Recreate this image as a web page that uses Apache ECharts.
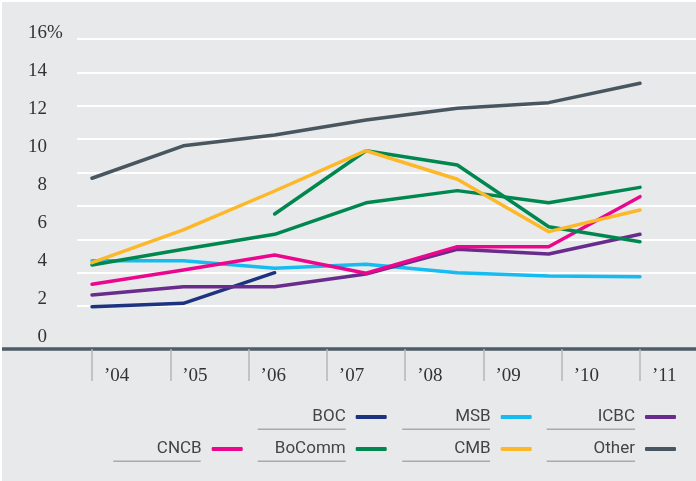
<!DOCTYPE html>
<html>
<head>
<meta charset="utf-8">
<script src="https://cdn.jsdelivr.net/npm/echarts@6/dist/echarts.min.js"></script>
<style>
  html, body { margin: 0; padding: 0; background: #fff; }
  #wrap { position: relative; width: 696px; height: 481px; background: #fff; }
  #chart { position: absolute; left: 2px; top: 2px; width: 694px; height: 479px; }
</style>
</head>
<body>
<div id="wrap"><div id="chart"></div></div>
<script>
// data points (7 per line), tick labels (8 under the axis)
const periods = ['2004', '2005', '2006', '2007', '2008', '2009', '2010']
const tickLabels = ['’04', '’05', '’06', '’07', '’08', '’09', '’10', '’11']

const boc = [1.61, 1.79, 3.40, null, null, null, null]
const msb = [4.03, 4.03, 3.63, 3.84, 3.40, 3.23, 3.19]
const icbc = [2.23, 2.66, 2.66, 3.33, 4.63, 4.38, 5.42]
const cncb = [2.79, 3.54, 4.33, 3.37, 4.77, 4.77, 7.40]
const bocomm = [3.81, 4.63, 5.42, 7.08, 7.72, 7.08, 7.89]
const bocomm2 = [null, null, 6.49, 9.82, 9.07, 5.82, 5.03]
const cmb = [3.93, 5.65, 7.70, 9.82, 8.32, 5.56, 6.70]
const other = [8.37, 10.08, 10.65, 11.44, 12.05, 12.35, 13.37]

const colors = {
  BOC: '#1c3380',
  MSB: '#16bcef',
  ICBC: '#6a2c8c',
  CNCB: '#ec068d',
  BoComm: '#00874f',
  CMB: '#fdb82a',
  Other: '#47565f',
}

const serif = 'Liberation Serif'
const chart = echarts.init(document.getElementById('chart'))

function line(name, data) {
  return {
    name: name,
    type: 'line',
    data: data,
    showSymbol: false,
    symbol: 'none',
    connectNulls: false,
    color: colors[name],
    lineStyle: {width: 3.5, color: colors[name], cap: 'round', join: 'round'},
    animation: false,
  }
}

// one legend box per entry so they can sit in the reference's columns
function legendItem(name, right, top) {
  return {
    data: [name],
    right: right,
    top: top,
    padding: 0,
    align: 'right',
    icon: 'roundRect',
    itemWidth: 31,
    itemHeight: 4,
    selectedMode: false,
    textStyle: {fontFamily: 'Roboto', fontSize: 17, color: '#444', padding: [0, 5, 4, 0]},
  }
}

function underline(x1, x2, y) {
  return {
    type: 'line',
    shape: {x1: x1, y1: y, x2: x2, y2: y},
    style: {stroke: '#a9aaac', lineWidth: 1.5},
  }
}

chart.setOption({
  backgroundColor: '#e8e9eb',
  grid: [
    {left: 90, width: 548, top: 31.3, height: 304, outerBoundsMode: 'none'},
    {left: 75, right: 0, top: 37, height: 267, outerBoundsMode: 'none'},
    {left: 0, right: 0, top: 346, height: 1, outerBoundsMode: 'none'},
  ],
  xAxis: [
    {gridIndex: 0, type: 'category', data: periods, boundaryGap: false, show: false},
    {
      gridIndex: 0,
      type: 'category',
      data: tickLabels,
      boundaryGap: false,
      position: 'bottom',
      offset: 11.7,
      axisLine: {show: false},
      axisTick: {show: true, length: 32, lineStyle: {color: '#b5b6b8', width: 1.5}},
      axisLabel: {
        interval: 0,
        align: 'left',
        padding: [0, 0, 0, 12],
        margin: 17.5,
        fontFamily: serif,
        fontSize: 19,
        color: '#333',
      },
    },
    {gridIndex: 1, type: 'value', min: 0, max: 1, show: false},
    {
      gridIndex: 2,
      type: 'value',
      min: 0,
      max: 1,
      axisLine: {show: true, lineStyle: {color: '#4d5c67', width: 3.5}},
      axisTick: {show: false},
      axisLabel: {show: false},
      splitLine: {show: false},
    },
  ],
  yAxis: [
    {
      gridIndex: 0,
      type: 'value',
      min: 0,
      max: 16,
      interval: 2,
      axisLine: {show: false},
      axisTick: {show: false},
      splitLine: {show: false},
      axisLabel: {margin: 45, fontFamily: serif, fontSize: 19, color: '#333'},
    },
    {
      gridIndex: 1,
      type: 'value',
      min: 0,
      max: 8,
      interval: 1,
      axisLine: {show: false},
      axisTick: {show: false},
      axisLabel: {show: false},
      splitLine: {show: true, lineStyle: {color: '#ffffff', width: 2}},
    },
    {gridIndex: 2, type: 'value', show: false},
  ],
  legend: [
    legendItem('BOC', 309.3, 406.5),
    legendItem('MSB', 164.3, 406.5),
    legendItem('ICBC', 20, 406.5),
    legendItem('CNCB', 453.3, 438.5),
    legendItem('BoComm', 309.3, 438.5),
    legendItem('CMB', 164.3, 438.5),
    legendItem('Other', 20, 438.5),
  ],
  graphic: [
    {
      type: 'text',
      left: 45,
      top: 21.5,
      style: {text: '%', font: '19px "Liberation Serif"', fill: '#333'},
    },
    underline(255.7, 343.7, 427.3),
    underline(400.3, 488, 427.3),
    underline(544.7, 633, 427.3),
    underline(111.3, 198.7, 459.3),
    underline(255.7, 343.7, 459.3),
    underline(400.3, 488, 459.3),
    underline(544.7, 633, 459.3),
  ],
  series: [
    line('BOC', boc),
    line('MSB', msb),
    line('ICBC', icbc),
    line('CNCB', cncb),
    line('BoComm', bocomm),
    line('BoComm', bocomm2),
    line('CMB', cmb),
    line('Other', other),
  ],
})
</script>
</body>
</html>
